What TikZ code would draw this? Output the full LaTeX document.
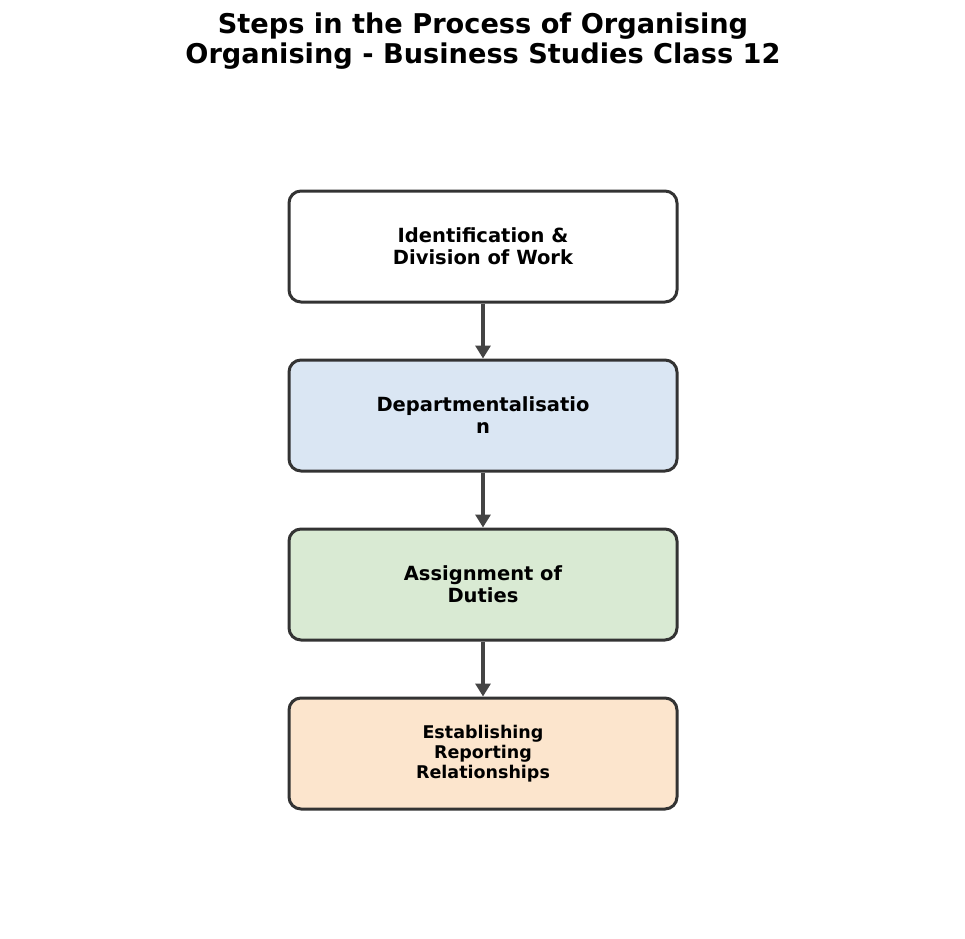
\documentclass[tikz,border=0pt]{standalone}
\usepackage{fontspec}
\setmainfont{DejaVu Sans}
\usetikzlibrary{arrows.meta}
\definecolor{edgec}{HTML}{333333}
\definecolor{arrc}{HTML}{444444}
\definecolor{fblue}{HTML}{DAE6F3}
\definecolor{fgreen}{HTML}{D9EAD3}
\definecolor{forange}{HTML}{FCE5CD}
\tikzset{
  stepbox/.style={draw=edgec, line width=3pt, rounded corners=12pt,
    minimum width=388pt, minimum height=111pt, align=center, inner sep=0pt,
    font=\fontsize{19.5}{22}\selectfont\bfseries},
  flow/.style={draw=arrc, line width=3.2pt, -{Triangle[width=15pt,length=13pt]}}
}
\begin{document}
\begin{tikzpicture}[x=1pt,y=-1pt]
\useasboundingbox (0,0) rectangle (965,938);
\node[align=center, font=\fontsize{27.2}{30}\selectfont\bfseries] (title) at (483,41)
  {Steps in the Process of Organising\\Organising - Business Studies Class 12};
\node[stepbox, fill=white] (b1) at (483,246.5) {Identification \&\\Division of Work};
\node[stepbox, fill=fblue] (b2) at (483,415.5) {Departmentalisatio\\n};
\node[stepbox, fill=fgreen] (b3) at (483,584.5) {Assignment of\\Duties};
\node[stepbox, fill=forange, font=\fontsize{17.5}{20.2}\selectfont\bfseries] (b4) at (483,753.5) {Establishing\\Reporting\\Relationships};
\draw[flow] (b1.south) -- (b2.north);
\draw[flow] (b2.south) -- (b3.north);
\draw[flow] (b3.south) -- (b4.north);
\end{tikzpicture}
\end{document}
